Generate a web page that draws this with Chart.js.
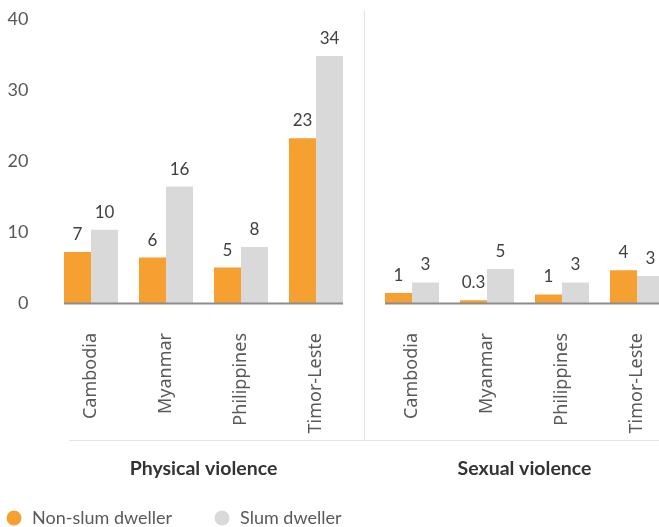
<!DOCTYPE html>
<html>
<head>
<meta charset="utf-8">
<script src="https://cdn.jsdelivr.net/npm/chart.js@4.4.0/dist/chart.umd.min.js"></script>
<style>
  html, body { margin: 0; padding: 0; background: #fff; }
  #wrap { position: relative; width: 659px; height: 527px; overflow: hidden; }
  #chartLeft { position: absolute; left: -36px; top: 0; }
  #chartRight { position: absolute; left: 364px; top: 0; }
</style>
</head>
<body>
<div id="wrap">
  <canvas id="chartLeft" width="460" height="537"></canvas>
  <canvas id="chartRight" width="320" height="537"></canvas>
</div>
<script>
// Dados do gráfico //

const countries = ["Cambodia", "Myanmar", "Philippines", "Timor-Leste"];
const groups = ["Physical violence", "Sexual violence"];
const seriesNames = ["Non-slum dweller", "Slum dweller"];

const physicalNonSlum = [7.2, 6.4, 5.0, 23.2];
const physicalSlum = [10.3, 16.4, 7.9, 34.8];
const sexualNonSlum = [1.4, 0.4, 1.2, 4.6];
const sexualSlum = [2.9, 4.8, 2.9, 3.8];

const physicalNonSlumLabels = ["7", "6", "5", "23"];
const physicalSlumLabels = ["10", "16", "8", "34"];
const sexualNonSlumLabels = ["1", "0.3", "1", "4"];
const sexualSlumLabels = ["3", "5", "3", "3"];

const yTicks = [0, 10, 20, 30, 40];

const orange = "#F5A031";
const grey = "#D9D9D9";

Chart.defaults.font.family = "Lato";

// Rótulos em cima das barras //

const valueLabels = {
    id: "valueLabels",
    afterDatasetsDraw(chart) {
        const ctx = chart.ctx;
        ctx.save();
        ctx.font = "17px Lato";
        ctx.fillStyle = "#404040";
        ctx.textAlign = "center";
        ctx.textBaseline = "alphabetic";
        chart.data.datasets.forEach((ds, i) => {
            chart.getDatasetMeta(i).data.forEach((bar, j) => {
                ctx.fillText(ds.valueLabels[j], bar.x, bar.y - 12);
            });
        });
        ctx.restore();
    }
};

// Linha base, separador e linha cinza de baixo //

const decorations = {
    id: "decorations",
    beforeDatasetsDraw(chart, args, opts) {
        const ctx = chart.ctx;
        const area = chart.chartArea;
        const lineY = area.bottom + 137.5;
        ctx.save();
        ctx.strokeStyle = "#E3E3E3";
        ctx.lineWidth = 1;
        ctx.beginPath();
        if (opts.separator) {
            ctx.moveTo(0.5, area.top - 9);
            ctx.lineTo(0.5, lineY);
        }
        ctx.moveTo(opts.lineStart, lineY);
        ctx.lineTo(chart.width, lineY);
        ctx.stroke();
        ctx.restore();
    },
    afterDatasetsDraw(chart) {
        const ctx = chart.ctx;
        const y0 = chart.scales.y.getPixelForValue(0);
        let left = Infinity, right = -Infinity;
        chart.data.datasets.forEach((ds, i) => {
            chart.getDatasetMeta(i).data.forEach(bar => {
                left = Math.min(left, bar.x - bar.width / 2);
                right = Math.max(right, bar.x + bar.width / 2);
            });
        });
        ctx.save();
        ctx.strokeStyle = "#8C8C8C";
        ctx.lineWidth = 2;
        ctx.beginPath();
        ctx.moveTo(left, y0 + 0.5);
        ctx.lineTo(right, y0 + 0.5);
        ctx.stroke();
        ctx.restore();
    }
};

function makeDataset(label, data, labels, color) {
    return {
        label,
        data,
        valueLabels: labels,
        backgroundColor: color,
        borderWidth: 0,
        categoryPercentage: 0.72,
        barPercentage: 1.0
    };
}

function xAxis(title, padRight) {
    return {
        type: "category",
        offset: true,
        grid: { display: false, drawTicks: false },
        border: { display: false },
        ticks: {
            autoSkip: false,
            minRotation: 90,
            maxRotation: 90,
            padding: 30,
            color: "#595959",
            font: { family: "Noto Sans", size: 18 }
        },
        title: {
            display: true,
            text: title,
            color: "#333333",
            font: { size: 19.5, weight: "bold" },
            padding: { top: 0, bottom: -12 }
        },
        afterFit(scale) {
            scale.height = 165;
            scale.paddingLeft = 0;
            scale.paddingRight = padRight;
        }
    };
}

function yAxis(show) {
    return {
        display: show,
        min: yTicks[0],
        max: yTicks[yTicks.length - 1],
        grid: { display: false, drawTicks: false },
        border: { display: false },
        ticks: {
            stepSize: 10,
            padding: 25,
            color: "#595959",
            font: { size: 18 }
        },
        afterFit(scale) {
            scale.width = show ? 89.5 : 0;
            scale.paddingTop = 0;
            scale.paddingBottom = 0;
        }
    };
}

// Painel da esquerda: violência física + eixo y + legenda

const chartLeft = new Chart(document.getElementById("chartLeft"), {
    type: "bar",
    data: {
        labels: countries,
        datasets: [
            makeDataset(seriesNames[0], physicalNonSlum, physicalNonSlumLabels, orange),
            makeDataset(seriesNames[1], physicalSlum, physicalSlumLabels, grey)
        ]
    },
    options: {
        responsive: false,
        animation: false,
        devicePixelRatio: 1,
        layout: { padding: { top: 19, left: 0, right: 0, bottom: 0 } },
        plugins: {
            tooltip: { enabled: false },
            decorations: { separator: false, lineStart: 105.5 },
            legend: {
                position: "bottom",
                align: "start",
                labels: {
                    usePointStyle: true,
                    pointStyle: "circle",
                    boxHeight: 10.6,
                    padding: 41,
                    color: "#595959",
                    font: { size: 18 }
                }
            }
        },
        scales: {
            x: xAxis(groups[0], 70.5),
            y: yAxis(true)
        }
    },
    plugins: [decorations, valueLabels]
});

// Painel da direita: violência sexual

const chartRight = new Chart(document.getElementById("chartRight"), {
    type: "bar",
    data: {
        labels: countries,
        datasets: [
            makeDataset(seriesNames[0], sexualNonSlum, sexualNonSlumLabels, orange),
            makeDataset(seriesNames[1], sexualSlum, sexualSlumLabels, grey)
        ]
    },
    options: {
        responsive: false,
        animation: false,
        devicePixelRatio: 1,
        layout: { padding: { top: 19, left: 10.5, right: 9.5, bottom: 69 } },
        plugins: {
            tooltip: { enabled: false },
            legend: { display: false },
            decorations: { separator: true, lineStart: 0 }
        },
        scales: {
            x: xAxis(groups[1], 0),
            y: yAxis(false)
        }
    },
    plugins: [decorations, valueLabels]
});
</script>
</body>
</html>
